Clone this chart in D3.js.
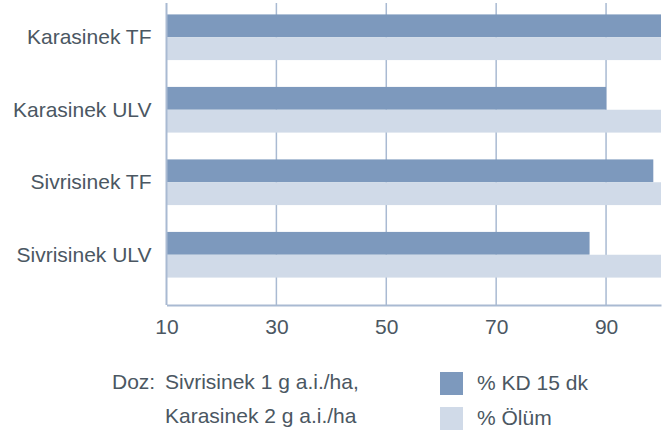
<!DOCTYPE html>
<html>
<head>
<meta charset="utf-8">
<script src="https://cdn.jsdelivr.net/npm/d3@7"></script>
<style>
  body { margin: 0; background: #fff; }
  svg { font-family: "Liberation Sans", Arial, sans-serif; }
</style>
</head>
<body>
<svg id="chart"></svg>
<script>
// data
const categories = ["Karasinek TF", "Karasinek ULV", "Sivrisinek TF", "Sivrisinek ULV"];
const seriesNames = ["% KD 15 dk", "% Ölüm"];
const kdValues = [100, 90, 98.6, 87];
const olumValues = [100, 100, 100, 100];
const xTicks = [10, 30, 50, 70, 90];
const noteLines = ["Sivrisinek 1 g a.i./ha,", "Karasinek 2 g a.i./ha"];

const colors = ["#7d99bd", "#d0dae8"];
const gridColor = "#a9bad2";
const textColor = "#4b5762";

const width = 667, height = 433;
const margin = { top: 3, right: 6, bottom: 128, left: 166.5 };
const plotW = width - margin.left - margin.right;
const plotH = height - margin.top - margin.bottom;

const svg = d3.select("#chart")
  .attr("width", width)
  .attr("height", height);

const g = svg.append("g")
  .attr("transform", `translate(${margin.left},${margin.top})`);

// scales
const x = d3.scaleLinear().domain([10, 100]).range([0, plotW]);

const y = d3.scaleBand()
  .domain(categories)
  .range([-2, 288])
  .paddingInner(0.37)
  .paddingOuter(0.185);

const ySub = d3.scaleBand()
  .domain(seriesNames)
  .range([0, y.bandwidth()]);

// gridlines
g.append("g")
  .selectAll("line")
  .data(xTicks.filter(d => d > 10))
  .enter()
  .append("line")
  .attr("x1", d => x(d))
  .attr("x2", d => x(d))
  .attr("y1", 0)
  .attr("y2", plotH)
  .attr("stroke", gridColor)
  .attr("stroke-width", 1.5);

// bars
const rows = categories.map((c, i) => ({ cat: c, vals: [kdValues[i], olumValues[i]] }));

const groups = g.selectAll(".row")
  .data(rows)
  .enter()
  .append("g")
  .attr("class", "row")
  .attr("transform", d => `translate(0,${y(d.cat)})`);

groups.selectAll("rect")
  .data(d => d.vals.map((v, j) => ({ key: seriesNames[j], value: v, j: j })))
  .enter()
  .append("rect")
  .attr("x", x(10))
  .attr("y", d => ySub(d.key))
  .attr("width", d => x(d.value) - x(10))
  .attr("height", ySub.bandwidth())
  .attr("fill", d => colors[d.j]);

// category labels
g.selectAll(".cat-label")
  .data(categories)
  .enter()
  .append("text")
  .attr("class", "cat-label")
  .attr("x", -15)
  .attr("y", d => y(d) + y.bandwidth() / 2 + 1.5)
  .attr("text-anchor", "end")
  .attr("dominant-baseline", "middle")
  .attr("fill", textColor)
  .style("font-size", "21px")
  .text(d => d);

// x axis
const xAxis = g.append("g")
  .attr("transform", `translate(0,${plotH})`)
  .call(d3.axisBottom(x).tickValues(xTicks).tickSize(0).tickPadding(14));

xAxis.select(".domain")
  .attr("stroke", gridColor)
  .attr("stroke-width", 2);

xAxis.selectAll("text")
  .attr("fill", textColor)
  .style("font-size", "21px");

// y axis line
g.append("line")
  .attr("x1", 0).attr("x2", 0)
  .attr("y1", 0).attr("y2", plotH)
  .attr("stroke", gridColor)
  .attr("stroke-width", 2);

// dose note
const note = svg.append("g").attr("fill", textColor).style("font-size", "21px");
note.append("text")
  .attr("x", 112)
  .attr("y", 383)
  .attr("dominant-baseline", "middle")
  .text("Doz:");
note.selectAll(".note-line")
  .data(noteLines)
  .enter()
  .append("text")
  .attr("class", "note-line")
  .attr("x", 165)
  .attr("y", (d, i) => 383 + i * 34)
  .attr("dominant-baseline", "middle")
  .text(d => d);

// legend
const legend = svg.append("g")
  .attr("transform", "translate(440,372)");

const legendItems = legend.selectAll(".legend-item")
  .data(seriesNames)
  .enter()
  .append("g")
  .attr("class", "legend-item")
  .attr("transform", (d, i) => `translate(0,${i * 35})`);

legendItems.append("rect")
  .attr("width", 23)
  .attr("height", 23)
  .attr("fill", (d, i) => colors[i]);

legendItems.append("text")
  .attr("x", 37)
  .attr("y", 12)
  .attr("dominant-baseline", "middle")
  .attr("fill", textColor)
  .style("font-size", "21px")
  .text(d => d);
</script>
</body>
</html>
